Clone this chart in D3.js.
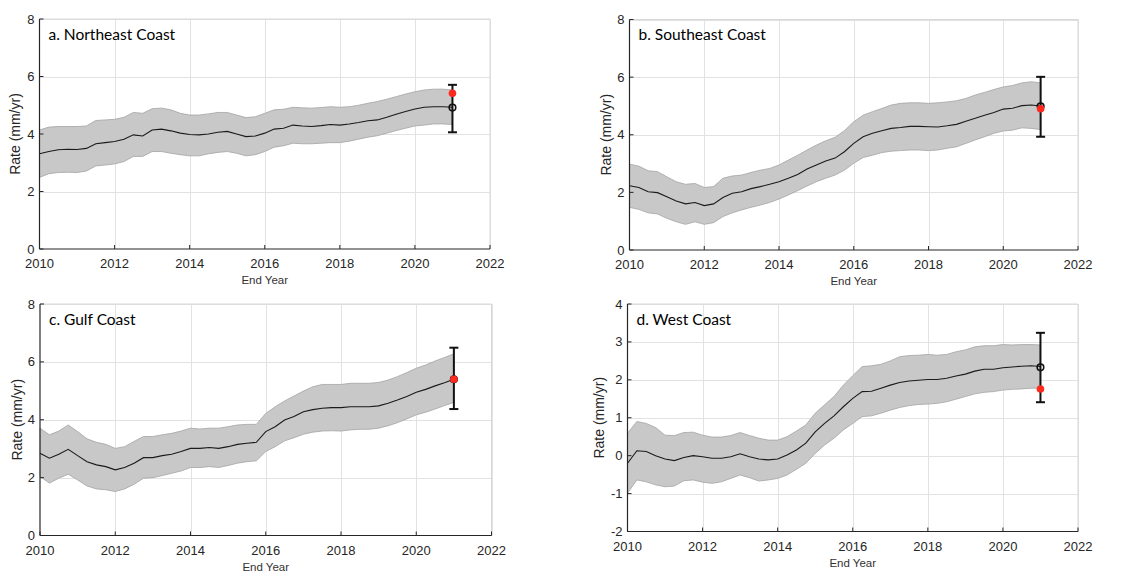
<!DOCTYPE html>
<html>
<head>
<meta charset="utf-8">
<script src="https://cdn.jsdelivr.net/npm/d3@7"></script>
<style>
  body { margin: 0; background: #fff; }
  svg { display: block; }
</style>
</head>
<body>
<svg id="chart" width="1132" height="576"></svg>
<script>
// end years (quarter-year steps)
var years = [2010,2010.25,2010.5,2010.75,2011,2011.25,2011.5,2011.75,2012,2012.25,2012.5,2012.75,
  2013,2013.25,2013.5,2013.75,2014,2014.25,2014.5,2014.75,2015,2015.25,2015.5,2015.75,
  2016,2016.25,2016.5,2016.75,2017,2017.25,2017.5,2017.75,2018,2018.25,2018.5,2018.75,
  2019,2019.25,2019.5,2019.75,2020,2020.25,2020.5,2020.75,2021];

// a. Northeast
var neMid = [3.31,3.39,3.45,3.47,3.46,3.5,3.66,3.7,3.74,3.82,3.97,3.93,4.14,4.17,4.11,4.03,3.98,3.97,4.0,4.06,4.09,4.0,3.91,3.93,4.03,4.17,4.2,4.31,4.28,4.26,4.29,4.33,4.31,4.35,4.4,4.46,4.49,4.58,4.69,4.78,4.87,4.93,4.95,4.95,4.93];
var neHi = [4.14,4.24,4.26,4.26,4.26,4.28,4.47,4.49,4.51,4.58,4.75,4.72,4.88,4.9,4.84,4.72,4.66,4.66,4.7,4.75,4.75,4.66,4.57,4.6,4.72,4.84,4.86,4.93,4.91,4.9,4.92,4.95,4.93,4.95,5.0,5.07,5.13,5.21,5.3,5.39,5.47,5.53,5.56,5.56,5.53];
var neLo = [2.49,2.62,2.66,2.67,2.66,2.71,2.89,2.92,2.96,3.04,3.22,3.22,3.39,3.39,3.33,3.28,3.24,3.24,3.31,3.36,3.39,3.33,3.24,3.28,3.39,3.54,3.59,3.68,3.66,3.66,3.68,3.7,3.7,3.75,3.82,3.89,3.94,4.03,4.12,4.2,4.28,4.31,4.35,4.35,4.33];

// b. Southeast
var seMid = [2.23,2.17,2.02,1.99,1.85,1.7,1.6,1.65,1.54,1.6,1.82,1.97,2.02,2.13,2.2,2.28,2.37,2.49,2.62,2.81,2.95,3.09,3.19,3.41,3.7,3.93,4.05,4.14,4.22,4.25,4.29,4.29,4.28,4.27,4.31,4.36,4.47,4.57,4.68,4.77,4.89,4.92,5.01,5.03,5.0];
var seHi = [2.98,2.91,2.75,2.72,2.54,2.37,2.28,2.31,2.17,2.2,2.49,2.57,2.6,2.69,2.77,2.83,2.95,3.12,3.29,3.47,3.64,3.79,3.91,4.14,4.45,4.68,4.8,4.91,5.03,5.09,5.11,5.11,5.09,5.11,5.14,5.18,5.26,5.38,5.47,5.57,5.66,5.71,5.8,5.84,5.8];
var seLo = [1.48,1.41,1.29,1.25,1.1,0.98,0.89,0.98,0.89,0.95,1.16,1.29,1.39,1.48,1.56,1.65,1.77,1.91,2.06,2.22,2.37,2.49,2.6,2.77,3.01,3.21,3.29,3.38,3.43,3.45,3.47,3.47,3.45,3.47,3.53,3.58,3.7,3.82,3.93,4.05,4.13,4.16,4.24,4.22,4.18];

// c. Gulf
var gcMid = [2.84,2.67,2.81,2.98,2.76,2.55,2.44,2.38,2.27,2.35,2.5,2.69,2.69,2.76,2.81,2.9,3.01,3.01,3.04,3.01,3.07,3.15,3.19,3.22,3.59,3.76,3.99,4.11,4.28,4.35,4.4,4.42,4.42,4.45,4.45,4.45,4.48,4.57,4.68,4.8,4.95,5.05,5.17,5.28,5.4];
var gcHi = [3.71,3.48,3.61,3.82,3.59,3.34,3.22,3.15,3.01,3.07,3.25,3.42,3.42,3.48,3.53,3.61,3.71,3.68,3.71,3.71,3.76,3.82,3.84,3.84,4.22,4.45,4.65,4.82,4.99,5.14,5.22,5.22,5.22,5.26,5.26,5.26,5.29,5.37,5.49,5.63,5.78,5.89,6.03,6.15,6.28];
var gcLo = [2.04,1.81,1.98,2.12,1.92,1.71,1.61,1.58,1.52,1.61,1.77,1.98,2.0,2.07,2.15,2.23,2.35,2.35,2.38,2.35,2.42,2.5,2.55,2.58,2.9,3.07,3.27,3.38,3.5,3.57,3.61,3.62,3.61,3.65,3.67,3.67,3.71,3.79,3.9,4.03,4.17,4.26,4.37,4.49,4.6];

// d. West
var wcMid = [-0.2,0.13,0.11,0.0,-0.09,-0.13,-0.05,0.0,-0.03,-0.07,-0.07,-0.03,0.05,-0.03,-0.09,-0.11,-0.09,0.02,0.15,0.33,0.63,0.85,1.05,1.29,1.51,1.69,1.7,1.78,1.86,1.93,1.97,1.99,2.01,2.01,2.04,2.1,2.15,2.23,2.28,2.28,2.32,2.34,2.36,2.37,2.35];
var wcHi = [0.59,0.9,0.85,0.74,0.54,0.53,0.61,0.62,0.54,0.49,0.49,0.53,0.61,0.53,0.46,0.41,0.41,0.5,0.65,0.81,1.12,1.34,1.56,1.86,2.11,2.35,2.37,2.41,2.5,2.61,2.64,2.65,2.67,2.65,2.67,2.74,2.79,2.87,2.9,2.9,2.93,2.92,2.93,2.93,2.92];
var wcLo = [-0.99,-0.64,-0.69,-0.77,-0.82,-0.8,-0.66,-0.64,-0.7,-0.73,-0.69,-0.6,-0.51,-0.58,-0.67,-0.64,-0.6,-0.51,-0.36,-0.2,0.06,0.28,0.46,0.68,0.85,1.03,1.05,1.12,1.2,1.27,1.32,1.35,1.36,1.38,1.42,1.49,1.56,1.63,1.67,1.69,1.73,1.75,1.76,1.78,1.78];

// end-point estimates at 2021: [low, high, circle, red dot]
var barYear = 2021;
var neBar = [4.06, 5.71, 4.92, 5.42];
var seBar = [3.93, 6.01, 4.99, 4.90];
var gcBar = [4.37, 6.49, 5.40, 5.40];
var wcBar = [1.41, 3.24, 2.33, 1.76];

var titles = ['a. Northeast Coast', 'b. Southeast Coast', 'c. Gulf Coast', 'd. West Coast'];
var xTicks = [2010, 2012, 2014, 2016, 2018, 2020, 2022];
var yTicksA = [0, 2, 4, 6, 8];
var yTicksD = [-2, -1, 0, 1, 2, 3, 4];

var panels = [
  {title: titles[0], mid: neMid, hi: neHi, lo: neLo, bar: neBar, yDom: [0, 8], yTicks: yTicksA,
   box: {x0: 39.5, x1: 490, y0: 19, y1: 249}, labOff: 24},
  {title: titles[1], mid: seMid, hi: seHi, lo: seLo, bar: seBar, yDom: [0, 8], yTicks: yTicksA,
   box: {x0: 629.5, x1: 1078, y0: 19.5, y1: 250}, labOff: 23},
  {title: titles[2], mid: gcMid, hi: gcHi, lo: gcLo, bar: gcBar, yDom: [0, 8], yTicks: yTicksA,
   box: {x0: 40, x1: 491.5, y0: 304, y1: 535.5}, labOff: 23},
  {title: titles[3], mid: wcMid, hi: wcHi, lo: wcLo, bar: wcBar, yDom: [-2, 4], yTicks: yTicksD,
   box: {x0: 627.5, x1: 1078, y0: 304, y1: 531.5}, labOff: 28}
];

var svg = d3.select('#chart');
var tickFont = '13px "Liberation Sans", Arial, sans-serif';

panels.forEach(function(p) {
  var b = p.box;
  var x = d3.scaleLinear().domain([2010, 2022]).range([b.x0, b.x1]);
  var y = d3.scaleLinear().domain(p.yDom).range([b.y1, b.y0]);
  var g = svg.append('g');

  // grid
  g.selectAll('.gx').data(xTicks.slice(1)).enter().append('line')
    .attr('x1', d => Math.round(x(d)) + 0.5).attr('x2', d => Math.round(x(d)) + 0.5)
    .attr('y1', b.y0).attr('y2', b.y1)
    .attr('stroke', '#e2e2e2').attr('stroke-width', 1);
  g.selectAll('.gy').data(p.yTicks.slice(1)).enter().append('line')
    .attr('x1', b.x0).attr('x2', b.x1)
    .attr('y1', d => Math.round(y(d)) + 0.5).attr('y2', d => Math.round(y(d)) + 0.5)
    .attr('stroke', '#e2e2e2').attr('stroke-width', 1);

  var rows = years.map((yr, i) => ({yr: yr, mid: p.mid[i], hi: p.hi[i], lo: p.lo[i]}));

  // uncertainty band
  g.append('path').datum(rows)
    .attr('d', d3.area().x(d => x(d.yr)).y0(d => y(d.lo)).y1(d => y(d.hi)))
    .attr('fill', '#c8c8c8').attr('stroke', '#a3a3a3').attr('stroke-width', 0.8);

  // central rate
  g.append('path').datum(rows)
    .attr('d', d3.line().x(d => x(d.yr)).y(d => y(d.mid)))
    .attr('fill', 'none').attr('stroke', '#1a1a1a').attr('stroke-width', 1.1);

  // error bar + markers
  var bx = x(barYear);
  g.append('line').attr('x1', bx).attr('x2', bx)
    .attr('y1', y(p.bar[0])).attr('y2', y(p.bar[1]))
    .attr('stroke', '#111').attr('stroke-width', 2);
  [p.bar[0], p.bar[1]].forEach(function(v) {
    g.append('line').attr('x1', bx - 4.5).attr('x2', bx + 4.5)
      .attr('y1', y(v)).attr('y2', y(v))
      .attr('stroke', '#111').attr('stroke-width', 2);
  });
  g.append('circle').attr('cx', bx).attr('cy', y(p.bar[2])).attr('r', 3.3)
    .attr('fill', 'none').attr('stroke', '#111').attr('stroke-width', 1.6);
  g.append('circle').attr('cx', bx).attr('cy', y(p.bar[3])).attr('r', 3.8)
    .attr('fill', '#ff2a1f');

  // box: top/right light, left/bottom dark
  g.append('line').attr('x1', b.x0).attr('x2', b.x1).attr('y1', b.y0).attr('y2', b.y0)
    .attr('stroke', '#d8d8d8');
  g.append('line').attr('x1', b.x1).attr('x2', b.x1).attr('y1', b.y0).attr('y2', b.y1)
    .attr('stroke', '#d8d8d8');
  g.append('line').attr('x1', b.x0).attr('x2', b.x1).attr('y1', b.y1).attr('y2', b.y1)
    .attr('stroke', '#262626').attr('stroke-width', 1.2);
  g.append('line').attr('x1', b.x0).attr('x2', b.x0).attr('y1', b.y0).attr('y2', b.y1)
    .attr('stroke', '#262626').attr('stroke-width', 1.2);

  // inward ticks
  g.selectAll('.tx').data(xTicks).enter().append('line')
    .attr('x1', d => x(d)).attr('x2', d => x(d))
    .attr('y1', b.y1).attr('y2', b.y1 - 4)
    .attr('stroke', '#262626');
  g.selectAll('.ty').data(p.yTicks).enter().append('line')
    .attr('x1', b.x0).attr('x2', b.x0 + 4)
    .attr('y1', d => y(d)).attr('y2', d => y(d))
    .attr('stroke', '#262626');

  // tick labels
  g.selectAll('.lx').data(xTicks).enter().append('text')
    .attr('x', d => x(d)).attr('y', b.y1 + 19)
    .attr('text-anchor', 'middle')
    .style('font', tickFont).attr('fill', '#262626')
    .text(d => d);
  g.selectAll('.ly').data(p.yTicks).enter().append('text')
    .attr('x', b.x0 - 5).attr('y', d => y(d) + 4.5)
    .attr('text-anchor', 'end')
    .style('font', tickFont).attr('fill', '#262626')
    .text(d => d);

  // axis titles
  g.append('text')
    .attr('x', (b.x0 + b.x1) / 2).attr('y', b.y1 + 35)
    .attr('text-anchor', 'middle')
    .style('font', '11.5px "Liberation Sans", Arial, sans-serif').attr('fill', '#333')
    .text('End Year');
  g.append('text')
    .attr('transform', 'translate(' + (b.x0 - p.labOff) + ',' + ((b.y0 + b.y1) / 2) + ') rotate(-90)')
    .attr('dy', '0.35em')
    .attr('text-anchor', 'middle')
    .style('font', '14px "Liberation Sans", Arial, sans-serif').attr('fill', '#262626')
    .text('Rate (mm/yr)');

  // panel title
  g.append('text')
    .attr('x', b.x0 + 9).attr('y', b.y0 + 20.5)
    .style('font', '15.5px Lato, "Open Sans", sans-serif').attr('fill', '#000')
    .text(p.title);
});
</script>
</body>
</html>
